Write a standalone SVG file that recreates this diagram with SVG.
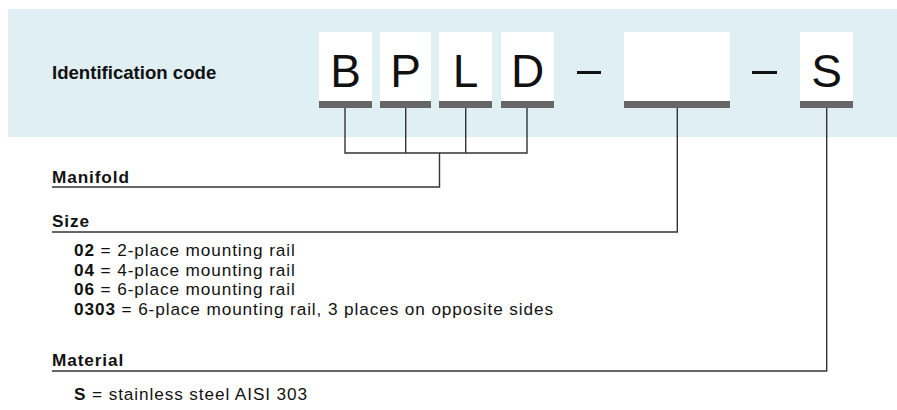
<svg xmlns="http://www.w3.org/2000/svg" width="897" height="410" viewBox="0 0 897 410">
  <style>
    .band { fill: #dfeff4; }
    .box { fill: #ffffff; }
    .bar { fill: #666666; }
    .big { font-family: "Liberation Sans", Arial, sans-serif; font-size: 46px; fill: #111111; text-anchor: middle; }
    .title { font-family: "Liberation Sans", Arial, sans-serif; font-size: 18.6px; font-weight: bold; fill: #111111; }
    .head { font-family: "Liberation Sans", Arial, sans-serif; font-size: 17.2px; font-weight: bold; letter-spacing: 0.9px; fill: #111111; }
    .body { font-family: "Liberation Sans", Arial, sans-serif; font-size: 17.2px; letter-spacing: 0.9px; fill: #111111; }
    .body tspan.b { font-weight: bold; }
    .conn { fill: none; stroke: #333333; stroke-width: 1.4; }
    .dash { stroke: #111111; stroke-width: 3; }
  </style>

  <rect class="band" x="8" y="9" width="889" height="128"/>

  <g id="title">
    <text class="title" x="52" y="79">Identification code</text>
  </g>

  <g id="code-B">
    <rect class="box" x="319" y="32" width="53" height="69"/>
    <rect class="bar" x="319" y="101" width="53" height="7"/>
    <text class="big" x="345.5" y="87">B</text>
  </g>
  <g id="code-P">
    <rect class="box" x="380" y="32" width="51" height="69"/>
    <rect class="bar" x="380" y="101" width="51" height="7"/>
    <text class="big" x="405.5" y="87">P</text>
  </g>
  <g id="code-L">
    <rect class="box" x="439" y="32" width="53" height="69"/>
    <rect class="bar" x="439" y="101" width="53" height="7"/>
    <text class="big" x="465.5" y="87">L</text>
  </g>
  <g id="code-D">
    <rect class="box" x="501" y="32" width="53" height="69"/>
    <rect class="bar" x="501" y="101" width="53" height="7"/>
    <text class="big" x="527.5" y="87">D</text>
  </g>
  <g id="dash-1">
    <line class="dash" x1="577" y1="72.5" x2="601" y2="72.5"/>
  </g>
  <g id="code-size">
    <rect class="box" x="624" y="32" width="106" height="69"/>
    <rect class="bar" x="624" y="101" width="106" height="7"/>
  </g>
  <g id="dash-2">
    <line class="dash" x1="752" y1="72.5" x2="777" y2="72.5"/>
  </g>
  <g id="code-S">
    <rect class="box" x="800" y="32" width="53" height="69"/>
    <rect class="bar" x="800" y="101" width="53" height="7"/>
    <text class="big" x="826.5" y="87">S</text>
  </g>

  <g id="connectors">
    <path class="conn" d="M345,108 V153 H527 V108"/>
    <path class="conn" d="M405.7,108 V153"/>
    <path class="conn" d="M465.7,108 V153"/>
    <path class="conn" d="M439.5,153 V187 H52"/>
    <path class="conn" d="M677.3,108 V232 H52"/>
    <path class="conn" d="M826.7,108 V371 H52"/>
  </g>

  <g id="manifold">
    <text class="head" x="52" y="182.5">Manifold</text>
  </g>

  <g id="size">
    <text class="head" x="52" y="226.5">Size</text>
    <text class="body" x="74" y="256"><tspan class="b">02</tspan> = 2-place mounting rail</text>
    <text class="body" x="74" y="275.5"><tspan class="b">04</tspan> = 4-place mounting rail</text>
    <text class="body" x="74" y="295"><tspan class="b">06</tspan> = 6-place mounting rail</text>
    <text class="body" x="74" y="314.5"><tspan class="b">0303</tspan> = 6-place mounting rail, 3 places on opposite sides</text>
  </g>

  <g id="material">
    <text class="head" x="52" y="365.5">Material</text>
    <text class="body" x="74" y="400"><tspan class="b">S</tspan> = stainless steel AISI 303</text>
  </g>
</svg>
